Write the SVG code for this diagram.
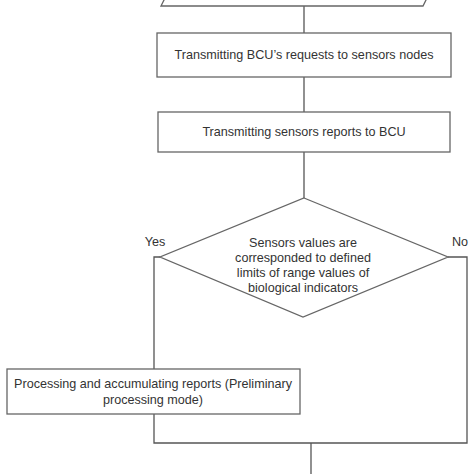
<svg xmlns="http://www.w3.org/2000/svg" width="474" height="474" viewBox="0 0 474 474">
<style>
.box{fill:#fff;stroke:#666;stroke-width:1.3}
.ln{fill:none;stroke:#555;stroke-width:1.3}
.t{font-family:"Liberation Sans",Arial,sans-serif;font-size:12.6px;fill:#333;text-anchor:middle}
</style>
<rect width="474" height="474" fill="#fff"/>
<g id="connectors">
<path class="ln" d="M304 6V33"/>
<path class="ln" d="M304 77V112"/>
<path class="ln" d="M304 152V198"/>
<path class="ln" d="M160 257H154V369"/>
<path class="ln" d="M154 414V443H467V257H448"/>
<path class="ln" d="M311 443V474"/>
</g>
<g id="start">
<polygon class="box" points="161,6 423,6 427,-2 165,-2"/>
</g>
<g id="n1">
<rect class="box" x="157" y="33" width="294" height="44"/>
<text class="t" x="304" y="59">Transmitting BCU’s requests to sensors nodes</text>
</g>
<g id="n2">
<rect class="box" x="158" y="112" width="292" height="40"/>
<text class="t" x="304" y="136">Transmitting sensors reports to BCU</text>
</g>
<g id="d1">
<polygon class="box" points="304,198 448,257 303,317 160,257"/>
<text class="t" x="303" y="247">Sensors values are</text>
<text class="t" x="303" y="262">corresponded to defined</text>
<text class="t" x="303" y="277">limits of range values of</text>
<text class="t" x="303" y="292">biological indicators</text>
</g>
<g id="lbl">
<text class="t" x="155" y="246">Yes</text>
<text class="t" x="460" y="246">No</text>
</g>
<g id="n3">
<rect class="box" x="7" y="369" width="293" height="45"/>
<text class="t" x="153" y="388">Processing and accumulating reports (Preliminary</text>
<text class="t" x="153" y="404">processing mode)</text>
</g>
</svg>
